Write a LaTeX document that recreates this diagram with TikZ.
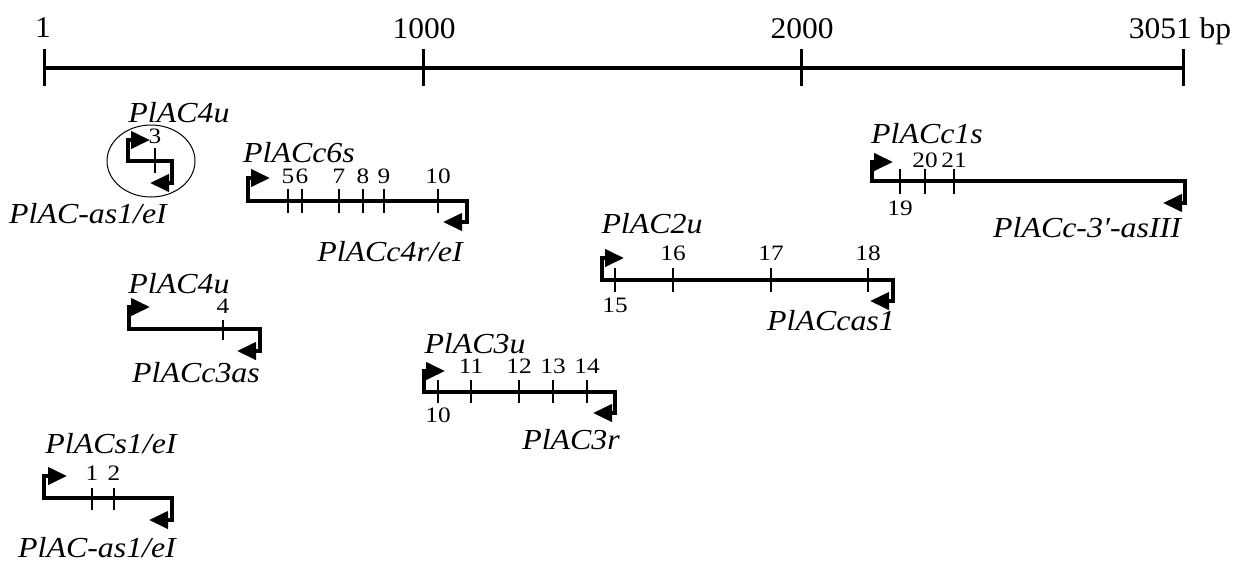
\documentclass[tikz,border=0pt]{standalone}
\usepackage{fontspec}
\usepackage{graphicx}
\setmainfont{Liberation Serif}
\usetikzlibrary{arrows.meta}
% horizontally widened text helpers
\newcommand{\lbltext}[1]{\scalebox{1.1}[1]{\itshape #1}}
\newcommand{\numtext}[1]{\scalebox{1.15}[1]{#1}}
\newcommand{\scaletext}[1]{\scalebox{1.05}[1]{#1}}
\begin{document}
\begin{tikzpicture}[x=1pt,y=-1pt,
  construct/.style={line width=4pt, line join=miter,
    {Triangle[length=19pt,width=17pt]}-{Triangle[length=19pt,width=17pt]}},
  tickmark/.style={line width=1.5pt},
  scaletick/.style={line width=3pt},
  scaleline/.style={line width=4pt},
  lbl/.style={anchor=base, inner sep=0pt, font=\fontsize{29}{34}\selectfont},
  num/.style={anchor=base, inner sep=0pt, font=\fontsize{22}{26}\selectfont},
  scalelbl/.style={anchor=base, inner sep=0pt, font=\fontsize{30}{36}\selectfont},
  ring/.style={line width=1pt}]
\useasboundingbox (0,0) rectangle (1246,562);

% ---- scale bar (bp) ----
\coordinate (s0) at (44,68);
\coordinate (s1) at (423,68);
\coordinate (s2) at (801,68);
\coordinate (s3) at (1183,68);
\draw[scaleline] (s0) -- (s3);
\foreach \p in {s0,s1,s2,s3}
  \draw[scaletick] ([yshift=-18pt]\p) -- ([yshift=19pt]\p);
\node[scalelbl] (l0) at (43,37) {\scaletext{1}};
\node[scalelbl] (l1) at (424,38) {\scaletext{1000}};
\node[scalelbl] (l2) at (802,38) {\scaletext{2000}};
\node[scalelbl] (l3) at (1180,38) {\scaletext{3051 bp}};

% ---- fragment A (circled) ----
\draw[ring] (151,161) ellipse [x radius=44pt, y radius=36pt];
\draw[construct] (150,140) -| (128,161) -- (172,161) -- (172,183) -- (150,183);
\draw[tickmark] (155,148) -- (155,173);
\node[num] (nA3) at (155,143) {\numtext{3}};
\node[lbl] (pA1) at (179,122) {\lbltext{PlAC4u}};
\node[lbl] (pA2) at (88,223) {\lbltext{PlAC-as1/eI}};

% ---- fragment B ----
\draw[construct] (270,178) -| (248,201) -- (467,201) -- (467,222) -- (443,222);
\foreach \x in {288,302,339,363,384,438}
  \draw[tickmark] (\x,189) -- (\x,213);
\node[num] (nB5) at (288,183) {\numtext{5}};
\node[num] (nB6) at (302,183) {\numtext{6}};
\node[num] (nB7) at (339,183) {\numtext{7}};
\node[num] (nB8) at (363,183) {\numtext{8}};
\node[num] (nB9) at (384,183) {\numtext{9}};
\node[num] (nB10) at (438,183) {\numtext{10}};
\node[lbl] (pB1) at (299,162) {\lbltext{PlACc6s}};
\node[lbl] (pB2) at (390,261) {\lbltext{PlACc4r/eI}};

% ---- fragment C ----
\draw[construct] (893,162) -| (872,181) -- (1185,181) -- (1185,203) -- (1163,203);
\foreach \x in {900,925,954}
  \draw[tickmark] (\x,169) -- (\x,194);
\node[num] (nC19) at (900,215) {\numtext{19}};
\node[num] (nC20) at (925,167) {\numtext{20}};
\node[num] (nC21) at (954,167) {\numtext{21}};
\node[lbl] (pC1) at (927,143) {\lbltext{PlACc1s}};
\node[lbl] (pC2) at (1087,237) {\lbltext{PlACc-3′-asIII}};

% ---- fragment D ----
\draw[construct] (624,258) -| (602,280) -- (893,280) -- (893,301) -- (870,301);
\foreach \x in {615,673,771,868}
  \draw[tickmark] (\x,268) -- (\x,292);
\node[num] (nD15) at (615,312) {\numtext{15}};
\node[num] (nD16) at (673,260) {\numtext{16}};
\node[num] (nD17) at (771,260) {\numtext{17}};
\node[num] (nD18) at (868,260) {\numtext{18}};
\node[lbl] (pD1) at (652,233) {\lbltext{PlAC2u}};
\node[lbl] (pD2) at (831,330) {\lbltext{PlACcas1}};

% ---- fragment E ----
\draw[construct] (445,371) -| (424,392) -- (615,392) -- (615,413) -- (593,413);
\foreach \x in {438,471,519,553,587}
  \draw[tickmark] (\x,380) -- (\x,403);
\node[num] (nE10) at (438,422) {\numtext{10}};
\node[num] (nE11) at (471,373) {\numtext{11}};
\node[num] (nE12) at (519,373) {\numtext{12}};
\node[num] (nE13) at (553,373) {\numtext{13}};
\node[num] (nE14) at (587,373) {\numtext{14}};
\node[lbl] (pE1) at (475,353) {\lbltext{PlAC3u}};
\node[lbl] (pE2) at (571,449) {\lbltext{PlAC3r}};

% ---- fragment F ----
\draw[construct] (150,307) -| (129,329) -- (260,329) -- (260,351) -- (237,351);
\draw[tickmark] (223,320) -- (223,340);
\node[num] (nF4) at (223,313) {\numtext{4}};
\node[lbl] (pF1) at (179,293) {\lbltext{PlAC4u}};
\node[lbl] (pF2) at (196,382) {\lbltext{PlACc3as}};

% ---- fragment G ----
\draw[construct] (67,476) -| (44,498) -- (172,498) -- (172,520) -- (149,520);
\foreach \x in {92,114}
  \draw[tickmark] (\x,488) -- (\x,510);
\node[num] (nG1) at (92,480) {\numtext{1}};
\node[num] (nG2) at (114,480) {\numtext{2}};
\node[lbl] (pG1) at (111,453) {\lbltext{PlACs1/eI}};
\node[lbl] (pG2) at (97,557) {\lbltext{PlAC-as1/eI}};
\end{tikzpicture}
\end{document}
